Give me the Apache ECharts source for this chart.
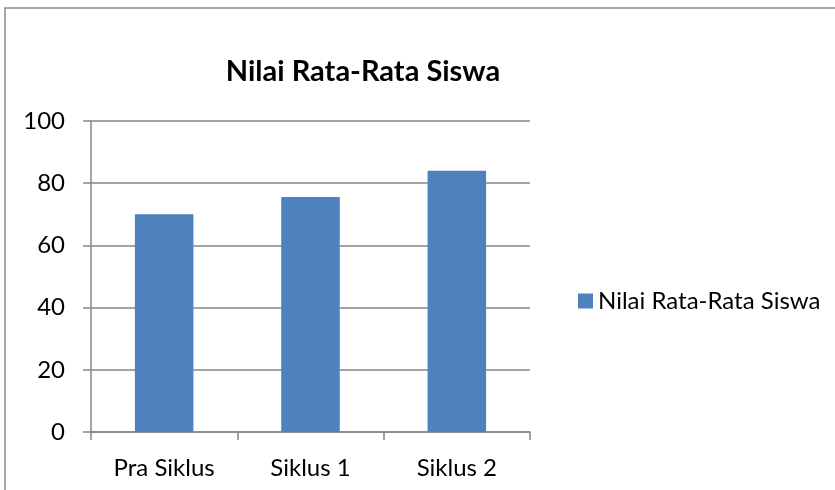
<!DOCTYPE html>
<html><head><meta charset="utf-8">
<script src="https://cdn.jsdelivr.net/npm/echarts@6/dist/echarts.min.js"></script>
<style>html,body{margin:0;padding:0;background:#fff}#c{width:835px;height:490px}</style>
</head><body><div id="c"></div>
<script>
const categories = ['Pra Siklus', 'Siklus 1', 'Siklus 2'];
const values = [70, 75.6, 84];
const seriesName = 'Nilai Rata-Rata Siswa';
const titleText = 'Nilai Rata-Rata Siswa';
const font = 'Lato, "Open Sans", sans-serif';
const chart = echarts.init(document.getElementById('c'), null, {renderer: 'canvas'});
chart.setOption({
  animation: false,
  backgroundColor: '#fff',
  graphic: [{type: 'rect', shape: {x: 5, y: 8, width: 900, height: 600}, style: {fill: 'none', stroke: '#8c8c8c', lineWidth: 1.5}, silent: true}],
  title: {text: titleText, left: 358, top: 52, textAlign: 'center',
    textStyle: {fontFamily: font, fontWeight: 'bold', fontSize: 29, color: '#000'}},
  legend: {data: [seriesName], left: 573, top: 284, itemWidth: 15, itemHeight: 15, itemGap: 8,
    textStyle: {fontFamily: font, fontSize: 24, color: '#000'}, icon: 'rect'},
  grid: {left: 91, top: 121, width: 439, height: 311, containLabel: false},
  xAxis: {type: 'category', data: categories,
    axisLine: {lineStyle: {color: '#868686', width: 1.5}},
    axisTick: {show: true, alignWithLabel: false, length: 8, lineStyle: {color: '#868686', width: 1.5}},
    axisLabel: {fontFamily: font, fontSize: 24, color: '#000', margin: 24}},
  yAxis: {type: 'value', min: 0, max: 100, interval: 20,
    axisLine: {show: true, lineStyle: {color: '#868686', width: 1.5}},
    axisTick: {show: true, length: 8, lineStyle: {color: '#868686', width: 1.5}},
    axisLabel: {fontFamily: font, fontSize: 24, color: '#000', margin: 26},
    splitLine: {lineStyle: {color: '#868686', width: 1.5}}},
  series: [{name: seriesName, type: 'bar', data: values, barWidth: '40%',
    itemStyle: {color: '#4f81bd'}}]
});
</script></body></html>
